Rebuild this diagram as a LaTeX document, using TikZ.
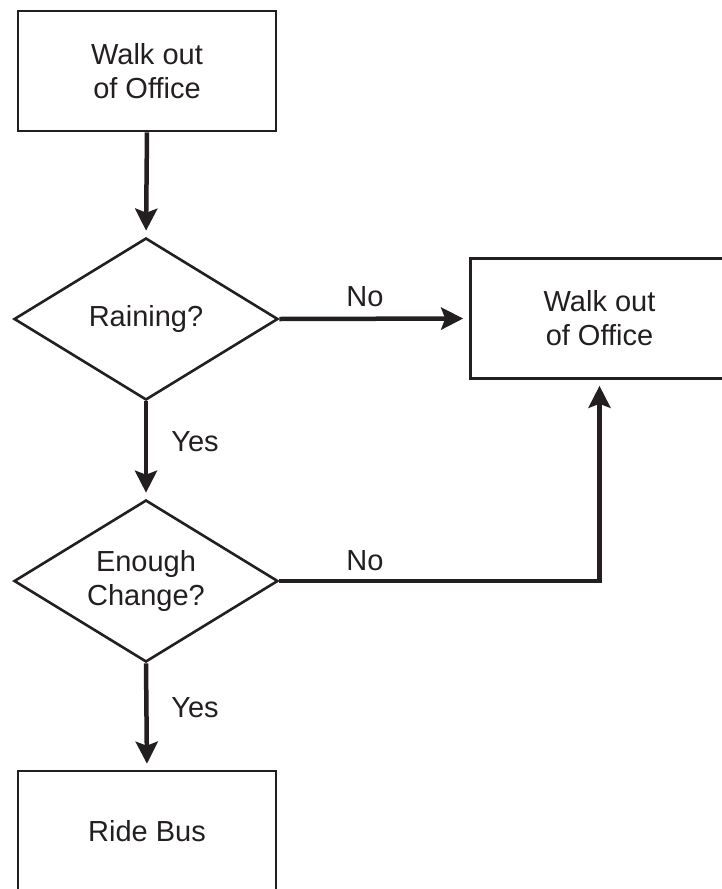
\documentclass[tikz,border=0pt]{standalone}
\usepackage{fontspec}
\setmainfont{Liberation Sans}
\usetikzlibrary{shapes.geometric,arrows.meta}
\definecolor{ink}{HTML}{231F20}
\tikzset{
  procbox/.style={draw=ink, line width=2.6pt, rectangle, minimum width=258pt, minimum height=120pt, inner sep=0pt, align=center, text=ink, font=\fontsize{29}{34}\selectfont},
  decbox/.style={draw=ink, line width=2.6pt, diamond, aspect=1.62, minimum width=264pt, minimum height=162pt, inner sep=0pt, align=center, text=ink, font=\fontsize{29}{34}\selectfont},
  flow/.style={draw=ink, line width=4.5pt, -{Stealth[length=22pt,width=22pt,inset=4pt]}, shorten >=6pt},
  lbl/.style={text=ink, font=\fontsize{29}{34}\selectfont, inner sep=0pt}
}
\begin{document}
\begin{tikzpicture}[x=1pt,y=-1pt]
\useasboundingbox (0,0) rectangle (721,889);
\node[procbox] (start) at (147,71) {Walk out\\of Office};
\node[decbox] (rain) at (146,319) {Raining?};
\node[procbox] (walk) at (599.5,318.5) {Walk out\\of Office};
\node[decbox] (change) at (146,581) {Enough\\Change?};
\node[procbox] (bus) at (147,831) {Ride Bus};
\draw[flow] (start.south) -- (rain.north);
\draw[flow] (rain.south) -- (change.north);
\draw[flow] (change.south) -- (bus.north);
\draw[flow] (rain.east) -- (walk.west);
\draw[flow] (change.east) -| (walk.south);
\node[lbl] (no1) at (365,297) {No};
\node[lbl] (yes1) at (195,442) {Yes};
\node[lbl] (no2) at (365,561) {No};
\node[lbl] (yes2) at (195,708) {Yes};
\end{tikzpicture}
\end{document}
